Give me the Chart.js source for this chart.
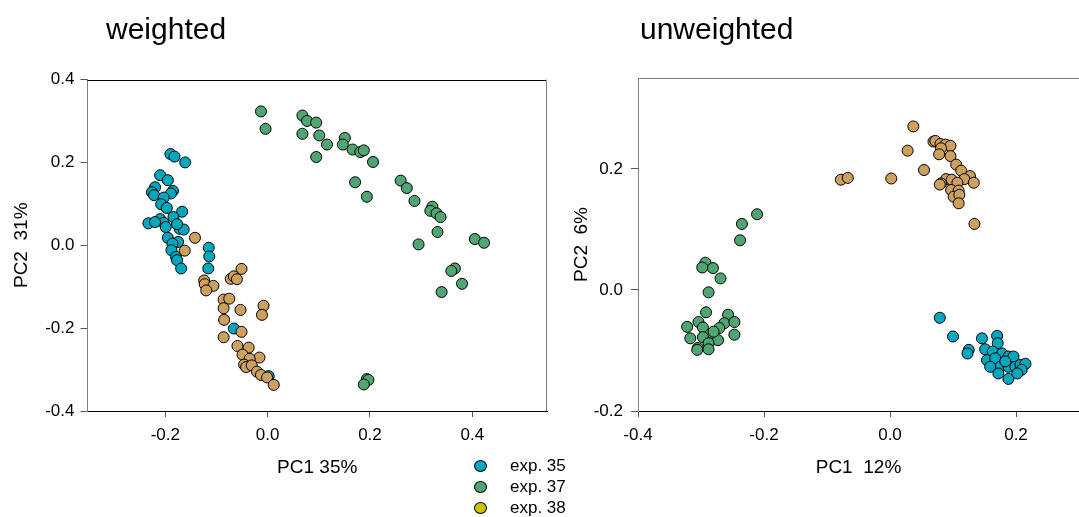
<!DOCTYPE html>
<html lang="en">
<head>
  <meta charset="UTF-8" />
  <title>PCoA weighted / unweighted</title>
  <script src="https://cdn.jsdelivr.net/npm/chart.js"></script>
  <style>
    body {
      margin: 0;
      background: #fff;
      font-family: "Liberation Sans", Arial, sans-serif;
    }
    #wrap { position: relative; width: 1079px; height: 517px; overflow: hidden; }
    .panel { position: absolute; top: 0; height: 517px; }
    #left { left: 0; width: 560px; }
    #right { left: 540px; width: 539px; }
    .title {
      position: absolute;
      top: 14px;
      font-size: 30px;
      line-height: 30px;
      color: #000;
    }
    .legend-row {
      position: absolute;
      left: 474px;
      font-size: 17px;
      line-height: 20px;
      color: #000;
      white-space: nowrap;
    }
    .legend-row .dot {
      display: inline-block;
      width: 11px;
      height: 10px;
      border: 1px solid #000;
      border-radius: 50%;
      margin-right: 23px;
      vertical-align: -1px;
    }
  </style>
</head>
<body>
  <div id="wrap">
    <div class="panel" id="left"><canvas id="chartW"></canvas></div>
    <div class="panel" id="right"><canvas id="chartU"></canvas></div>
    <div class="title" style="left:106px">weighted</div>
    <div class="title" style="left:640px">unweighted</div>
    <div id="legend"></div>
  </div>

  <script>
    const FONT = '"Liberation Sans", Arial, sans-serif';

    const legendLabels = ['exp. 35', 'exp. 37', 'exp. 38'];
    const colors = { exp35: '#00A8BF', exp37: '#4FA673', exp38: '#C9C300', other: '#CDA060' };

    // weighted PCoA
    const wTicksX = [-0.2, 0.0, 0.2, 0.4];
    const wTicksY = [-0.4, -0.2, 0.0, 0.2, 0.4];
    const wExp35 = [
      [-0.190, 0.220], [-0.182, 0.214], [-0.161, 0.200], [-0.210, 0.169], [-0.195, 0.157],
      [-0.220, 0.140], [-0.226, 0.128], [-0.222, 0.121], [-0.185, 0.131], [-0.189, 0.125],
      [-0.203, 0.115], [-0.208, 0.099], [-0.197, 0.090], [-0.167, 0.081], [-0.184, 0.068],
      [-0.210, 0.063], [-0.203, 0.054], [-0.233, 0.053], [-0.220, 0.056], [-0.199, 0.044],
      [-0.172, 0.040], [-0.164, 0.038], [-0.177, 0.051], [-0.195, 0.018], [-0.175, 0.008],
      [-0.186, 0.004], [-0.188, -0.012], [-0.115, -0.006], [-0.114, -0.027], [-0.179, -0.028],
      [-0.177, -0.036], [-0.169, -0.056], [-0.116, -0.056], [-0.066, -0.201], [0.002, -0.316]
    ];
    const wExp37 = [
      [-0.013, 0.323], [-0.004, 0.281], [0.068, 0.313], [0.077, 0.300], [0.095, 0.296],
      [0.068, 0.269], [0.101, 0.265], [0.116, 0.243], [0.095, 0.213], [0.151, 0.259],
      [0.147, 0.243], [0.166, 0.231], [0.181, 0.225], [0.188, 0.229], [0.206, 0.201],
      [0.171, 0.152], [0.194, 0.117], [0.260, 0.156], [0.272, 0.138], [0.287, 0.107],
      [0.322, 0.093], [0.318, 0.083], [0.330, 0.077], [0.338, 0.068], [0.332, 0.032],
      [0.295, 0.002], [0.405, 0.015], [0.423, 0.006], [0.366, -0.056], [0.359, -0.062],
      [0.380, -0.093], [0.340, -0.113], [0.194, -0.323], [0.197, -0.325], [0.188, -0.336]
    ];
    const wOther = [
      [-0.142, 0.018], [-0.162, -0.013], [-0.051, -0.057], [-0.072, -0.081], [-0.066, -0.075],
      [-0.060, -0.082], [-0.124, -0.085], [-0.123, -0.094], [-0.106, -0.098], [-0.120, -0.109],
      [-0.086, -0.131], [-0.075, -0.129], [-0.086, -0.152], [-0.053, -0.156], [-0.008, -0.146],
      [-0.011, -0.168], [-0.085, -0.180], [-0.051, -0.209], [-0.086, -0.222], [-0.059, -0.243],
      [-0.037, -0.247], [-0.049, -0.264], [-0.016, -0.271], [-0.035, -0.274], [-0.046, -0.288],
      [-0.042, -0.294], [-0.031, -0.290], [-0.021, -0.305], [-0.013, -0.313], [-0.001, -0.319],
      [0.012, -0.337]
    ];

    // unweighted PCoA
    const uTicksX = [-0.4, -0.2, 0.0, 0.2];
    const uTicksY = [-0.2, 0.0, 0.2];
    const uExp35 = [
      [0.079, -0.046], [0.100, -0.077], [0.125, -0.099], [0.123, -0.105], [0.146, -0.080],
      [0.170, -0.076], [0.171, -0.088], [0.151, -0.098], [0.163, -0.102], [0.178, -0.105],
      [0.154, -0.116], [0.167, -0.113], [0.188, -0.110], [0.196, -0.110], [0.175, -0.127],
      [0.188, -0.127], [0.199, -0.127], [0.207, -0.124], [0.215, -0.122], [0.209, -0.132],
      [0.172, -0.138], [0.188, -0.147], [0.202, -0.138], [0.183, -0.118], [0.159, -0.127]
    ];
    const uExp37 = [
      [-0.211, 0.125], [-0.235, 0.109], [-0.238, 0.082], [-0.293, 0.045], [-0.298, 0.037],
      [-0.281, 0.036], [-0.269, 0.019], [-0.288, -0.004], [-0.292, -0.037], [-0.257, -0.041],
      [-0.304, -0.053], [-0.322, -0.061], [-0.263, -0.055], [-0.247, -0.053], [-0.297, -0.062],
      [-0.271, -0.063], [-0.285, -0.073], [-0.247, -0.074], [-0.317, -0.080], [-0.297, -0.078],
      [-0.273, -0.083], [-0.288, -0.088], [-0.305, -0.096], [-0.306, -0.099], [-0.288, -0.098],
      [-0.280, -0.069]
    ];
    const uOther = [
      [0.037, 0.270], [0.069, 0.245], [0.072, 0.246], [0.080, 0.241], [0.088, 0.240],
      [0.096, 0.238], [0.081, 0.234], [0.028, 0.230], [0.078, 0.224], [0.096, 0.221],
      [0.105, 0.207], [0.054, 0.198], [0.113, 0.197], [0.127, 0.188], [0.002, 0.184],
      [-0.078, 0.182], [-0.067, 0.185], [0.118, 0.183], [0.133, 0.177], [0.089, 0.183],
      [0.081, 0.176], [0.079, 0.174], [0.098, 0.182], [0.107, 0.177], [0.097, 0.165],
      [0.109, 0.164], [0.101, 0.154], [0.110, 0.157], [0.109, 0.143], [0.134, 0.109]
    ];

    // draws the extra frame lines (top / right) that the scales don't
    const framePlugin = {
      id: 'frame',
      beforeDatasetsDraw(chart, args, opts) {
        const { ctx, chartArea: a } = chart;
        ctx.save();
        ctx.lineWidth = 1;
        if (opts.top) {
          const y = Math.round(a.top) + 0.5;
          ctx.strokeStyle = opts.top;
          ctx.beginPath(); ctx.moveTo(a.left, y); ctx.lineTo(a.right, y); ctx.stroke();
        }
        if (opts.right) {
          const x = Math.round(a.right) - 0.5;
          ctx.strokeStyle = opts.right;
          ctx.beginPath(); ctx.moveTo(x, a.top); ctx.lineTo(x, a.bottom); ctx.stroke();
        }
        ctx.restore();
      }
    };

    function series(points, color) {
      return {
        data: points.map(p => ({ x: p[0], y: p[1] })),
        backgroundColor: color,
        borderColor: '#000',
        borderWidth: 1,
        pointRadius: 5.5,
        pointHoverRadius: 5.5
      };
    }

    function makeChart(id, cfg) {
      return new Chart(document.getElementById(id), {
        type: 'scatter',
        data: {
          // first dataset is painted on top
          datasets: [
            series(cfg.other, colors.other),
            series(cfg.exp37, colors.exp37),
            series(cfg.exp35, colors.exp35)
          ]
        },
        options: {
          animation: false,
          responsive: true,
          maintainAspectRatio: false,
          events: [],
          layout: {
            autoPadding: false,
            padding: { top: cfg.padTop, right: cfg.padRight, bottom: 0, left: 0 }
          },
          scales: {
            x: {
              type: 'linear',
              min: cfg.xMin,
              max: cfg.xMax,
              afterBuildTicks: s => { s.ticks = cfg.ticksX.map(v => ({ value: v })); },
              afterFit: s => { s.height = 517 - 411; },
              border: { display: true, color: '#000', width: 1 },
              grid: { drawOnChartArea: false, drawTicks: true, tickLength: 6, color: '#555' },
              ticks: {
                padding: 8,
                color: '#000',
                font: { size: 17, family: FONT },
                callback: v => v.toFixed(1)
              },
              title: {
                display: true,
                text: cfg.xTitle,
                color: '#000',
                font: { size: 19, family: FONT },
                padding: { top: 0, bottom: 38 }
              }
            },
            y: {
              type: 'linear',
              min: cfg.yMin,
              max: cfg.yMax,
              afterBuildTicks: s => { s.ticks = cfg.ticksY.map(v => ({ value: v })); },
              afterFit: s => { s.width = cfg.yWidth; },
              border: { display: true, color: '#808080', width: 1 },
              grid: { drawOnChartArea: false, drawTicks: true, tickLength: 7, color: '#555' },
              ticks: {
                padding: cfg.yTickPad,
                color: '#000',
                font: { size: 17, family: FONT },
                callback: v => v.toFixed(1)
              },
              title: {
                display: true,
                text: cfg.yTitle,
                color: '#000',
                font: { size: 19, family: FONT },
                padding: { top: cfg.yTitlePad, bottom: 0 }
              }
            }
          },
          plugins: {
            legend: { display: false },
            tooltip: { enabled: false },
            frame: { top: cfg.frameTop, right: cfg.frameRight }
          }
        },
        plugins: [framePlugin]
      });
    }

    makeChart('chartW', {
      exp35: wExp35, exp37: wExp37, other: wOther,
      ticksX: wTicksX, ticksY: wTicksY,
      xMin: -0.352, xMax: 0.546, yMin: -0.4, yMax: 0.4,
      xTitle: 'PC1 35%', yTitle: 'PC2  31%',
      padTop: 79.5, padRight: 13, yWidth: 87.5, yTickPad: 6, yTitlePad: 10.5,
      frameTop: '#000', frameRight: '#808080'
    });

    makeChart('chartU', {
      exp35: uExp35, exp37: uExp37, other: uOther,
      ticksX: uTicksX, ticksY: uTicksY,
      xMin: -0.4, xMax: 0.3, yMin: -0.2, yMax: 0.35,
      xTitle: 'PC1  12%', yTitle: 'PC2  6%',
      padTop: 78, padRight: 0, yWidth: 98, yTickPad: 8, yTitlePad: 30,
      frameTop: '#808080', frameRight: null
    });

    // legend below the panels
    const legend = document.getElementById('legend');
    const legendColors = [colors.exp35, colors.exp37, colors.exp38];
    const legendTops = [456, 477, 498];
    legendLabels.forEach((label, i) => {
      const row = document.createElement('div');
      row.className = 'legend-row';
      row.style.top = legendTops[i] + 'px';
      const dot = document.createElement('span');
      dot.className = 'dot';
      dot.style.background = legendColors[i];
      row.appendChild(dot);
      row.appendChild(document.createTextNode(label));
      legend.appendChild(row);
    });
  </script>
</body>
</html>
